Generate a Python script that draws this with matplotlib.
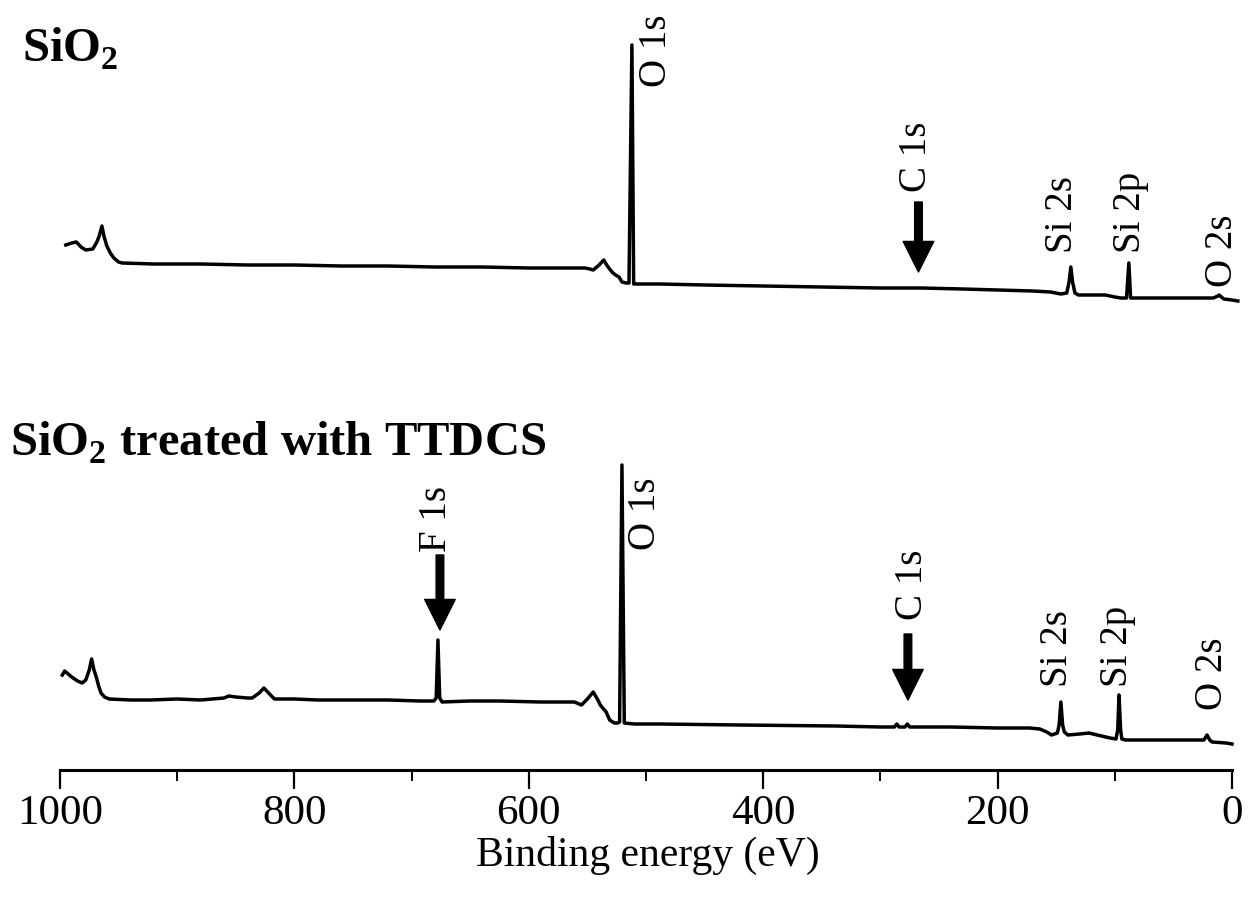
import matplotlib
matplotlib.use("Agg")
import matplotlib.pyplot as plt
from matplotlib.ticker import MultipleLocator

plt.rcParams["font.family"] = ["Liberation Serif", "DejaVu Serif"]
plt.rcParams["mathtext.fontset"] = "custom"
plt.rcParams["mathtext.rm"] = "Liberation Serif"
plt.rcParams["mathtext.bf"] = "Liberation Serif:bold"

# ---- survey spectrum: bare SiO2 (binding energy eV, intensity a.u.) ----
sio2_be = [995, 990, 986, 982, 978, 972, 968.5, 966.5, 964.2, 962.5, 960, 957, 954, 950, 947,
           920, 880, 840, 800, 760, 720, 680, 640, 600, 565, 552, 548, 545, 540, 536, 533,
           529, 526, 523, 520.5, 517, 514.5, 512, 510.5, 509, 500, 488, 450, 400, 350, 300,
           265, 230, 200, 170, 155, 146, 141, 139, 137.5, 136, 134, 131, 120, 108, 100, 95,
           90, 88, 86.5, 84, 60, 30, 16, 12, 11, 10, 7, 0, -5]
sio2_int = [65, 67, 68, 63, 60, 61, 68, 74, 84, 74, 64, 57, 52, 48, 47,
            46, 46, 45, 45, 44, 44, 43, 43, 42, 42, 42, 41, 40, 45, 50, 44,
            38, 35, 33, 28, 27, 27, 265, 26, 26, 26, 26, 25, 24, 23, 22,
            22, 21, 20, 19, 18, 16, 17, 28, 43, 28, 17, 15, 15, 15, 13, 12,
            12, 47, 12, 12, 12, 12, 12, 14, 15, 14, 11, 10, 9]

# ---- survey spectrum: SiO2 treated with TTDCS ----
ttdcs_be = [998, 996, 993, 990, 985, 981, 978, 975, 973, 971, 969, 967, 965, 962, 958,
            940, 923, 900, 880, 860, 856, 850, 840, 836, 830, 826, 822, 817, 800, 780,
            753, 720, 693, 681, 679, 677.5, 676, 674, 650, 625, 590, 561, 555, 550, 545,
            541, 539, 534, 531, 527, 524, 522.5, 520.5, 518.5, 510, 488, 420, 338, 300,
            288, 286, 284, 279, 277, 275, 240, 200, 173, 164, 158, 154, 149, 147.5, 146,
            144.5, 143, 140, 130, 122, 115, 104, 99, 97.5, 96.4, 95, 94, 91, 60, 30, 24,
            21.3, 19, 17, 5, 0]
ttdcs_int = [75, 79, 76, 73, 69, 67, 70, 80, 91, 80, 73, 64, 57, 53, 51,
             50, 50, 51, 50, 52, 54, 53, 52, 52, 57, 62, 57, 51, 51, 50,
             50, 50, 49, 49, 52, 110, 52, 48, 49, 49, 48, 48, 45, 51, 58,
             50, 45, 38, 30, 27, 27, 28, 285, 27, 26, 26, 25, 24, 23,
             23, 26, 23, 23, 26, 23, 23, 22, 22, 21, 18, 15, 17, 25, 48,
             25, 18, 15, 16, 17, 15, 12, 11, 20, 55, 20, 11, 10, 10, 10, 10,
             15, 10, 8, 7, 6]

# vertical offsets used to stack the two spectra
offset_sio2 = 460
offset_ttdcs = 20

# peak labels: (text, x in eV, label base height)
labels_sio2 = [("O 1s", 490.6, 683), ("C 1s", 269.6, 578), ("Si 2s", 145.0, 517),
               ("Si 2p", 87.0, 517), ("O 2s", 8.5, 483)]
labels_ttdcs = [("F 1s", 679.0, 218), ("O 1s", 500.0, 220), ("C 1s", 273.0, 150),
                ("Si 2s", 148.5, 83), ("Si 2p", 97.3, 83), ("O 2s", 17.0, 60)]
# arrows: (x in eV, tail height, tip height)
arrows = [(267.5, 568, 498), (675.8, 215, 140), (276.5, 136, 70)]

xticks_major = [1000, 800, 600, 400, 200, 0]

W, H = 1250, 901
fig = plt.figure(figsize=(W / 100, H / 100), dpi=100)
ax = fig.add_axes([50 / W, (H - 770) / H, 1195 / W, 770 / H])

ax.plot(sio2_be, [v + offset_sio2 for v in sio2_int], color="black", lw=2.5,
        solid_joinstyle="round")
ax.plot(ttdcs_be, [v + offset_ttdcs for v in ttdcs_int], color="black", lw=2.5,
        solid_joinstyle="round")

ax.set_xlim(1008.5, -11.1)
ax.set_ylim(0, 770)

for lab, xe, yb in labels_sio2 + labels_ttdcs:
    ax.text(xe, yb, lab, rotation=90, ha="center", va="bottom", fontsize=28)

for xe, tail, tip in arrows:
    ax.annotate("", xy=(xe, tip), xytext=(xe, tail),
                arrowprops=dict(facecolor="black", edgecolor="black", width=5.5,
                                headwidth=22, headlength=22, shrink=0))

for side in ("top", "right", "left"):
    ax.spines[side].set_visible(False)
ax.spines["bottom"].set_linewidth(2.2)
ax.spines["bottom"].set_bounds(0, 1000)
ax.set_yticks([])
ax.set_xticks(xticks_major)
ax.xaxis.set_minor_locator(MultipleLocator(100))
ax.tick_params(axis="x", which="major", direction="out", length=14, width=1.6,
               labelsize=31, pad=4)
ax.tick_params(axis="x", which="minor", direction="out", length=8, width=1.4)
ax.set_xlabel("Binding energy (eV)", fontsize=30, labelpad=2)

fig.text(22 / W, (H - 62) / H, r"SiO$_\mathbf{2}$", fontsize=35, fontweight="bold",
         ha="left", va="baseline")
fig.text(10 / W, (H - 456) / H, r"SiO$_\mathbf{2}$ treated with TTDCS", fontsize=35,
         fontweight="bold", ha="left", va="baseline")

fig.savefig("out.png", dpi=100, facecolor="white")
